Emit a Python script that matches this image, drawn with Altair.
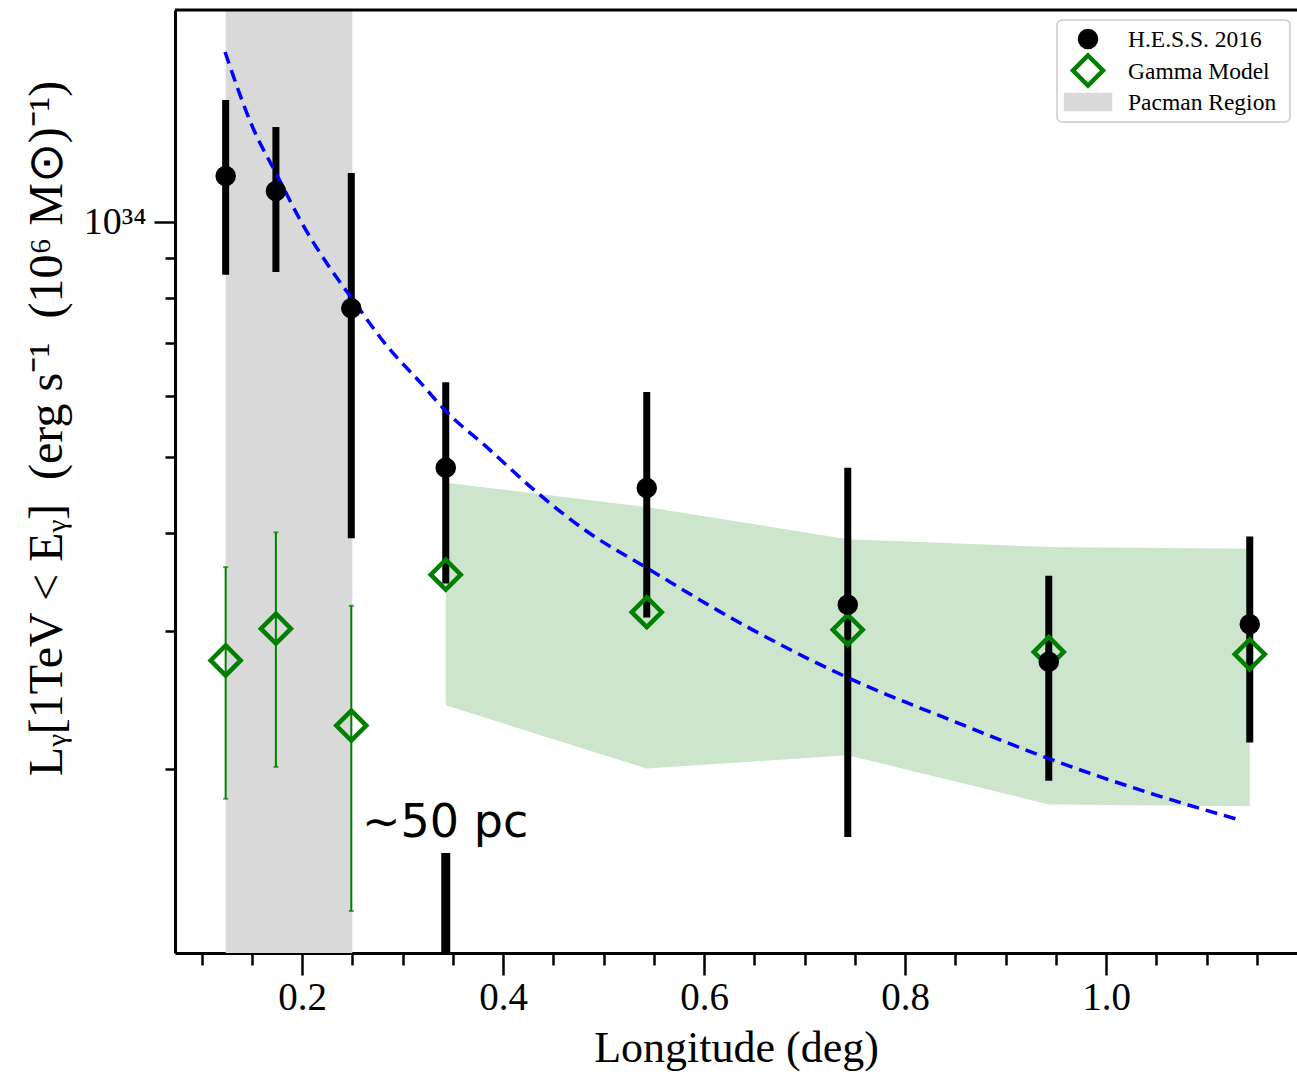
import altair as alt
import pandas as pd

# ---------------- data ----------------
hess_x = [0.124, 0.174, 0.249, 0.343, 0.543, 0.743, 0.943, 1.143]
hess_y = [1.145e34, 1.096e34, 7.76e33, 4.85e33, 4.57e33, 3.24e33, 2.74e33, 3.06e33]
hess_hi = [1.432e34, 1.323e34, 1.155e34, 6.24e33, 6.06e33, 4.85e33, 3.53e33, 3.96e33]
hess_lo = [8.56e33, 8.63e33, 3.94e33, 3.45e33, 3.12e33, 1.635e33, 1.93e33, 2.16e33]

gamma_x = [0.124, 0.174, 0.249, 0.343, 0.543, 0.743, 0.943, 1.143]
gamma_y = [2.75e33, 3.02e33, 2.27e33, 3.54e33, 3.17e33, 3.01e33, 2.82e33, 2.80e33]
gamma_err_x = [0.124, 0.174, 0.249]
gamma_err_hi = [3.62e33, 4.01e33, 3.23e33]
gamma_err_lo = [1.83e33, 2.01e33, 1.315e33]

band_x = [0.343, 0.543, 0.743, 0.943, 1.143]
band_hi = [4.64e33, 4.32e33, 3.93e33, 3.84e33, 3.82e33]
band_lo = [2.41e33, 2.00e33, 2.08e33, 1.80e33, 1.79e33]

curve_x = [0.1234, 0.1512, 0.1751, 0.2010, 0.2279, 0.2507, 0.2846, 0.3174, 0.3443,
           0.3841, 0.4338, 0.4836, 0.5433, 0.6149, 0.7413, 0.8517, 0.9473, 1.0498, 1.1323]
curve_y = [1.650e34, 1.319e34, 1.148e34, 9.91e33, 8.73e33, 7.95e33, 6.94e33, 6.24e33, 5.71e33,
           5.15e33, 4.51e33, 4.02e33, 3.61e33, 3.18e33, 2.62e33, 2.29e33, 2.05e33, 1.85e33, 1.72e33]

pacman_x = [0.124, 0.250]

scalebar_x = [0.343]
scalebar_y = [1.56e33]
scalebar_y2 = [1.162e33]

note_text = ["~50 pc"]
note_x = [0.2597]
note_y = [1.635e33]

series = ["H.E.S.S. 2016", "Gamma Model", "Pacman Region"]

x_domain = [0.0736, 1.1900]
y_domain = [1.162e33, 1.867e34]
x_tick_values = [0.1, 0.15, 0.2, 0.25, 0.3, 0.35, 0.4, 0.45, 0.5, 0.55, 0.6, 0.65,
                 0.7, 0.75, 0.8, 0.85, 0.9, 0.95, 1.0, 1.05, 1.1, 1.15]
y_tick_values = [2e33, 3e33, 4e33, 5e33, 6e33, 7e33, 8e33, 9e33, 1e34]

# ---------------- tables ----------------
hess_df = pd.DataFrame({"x": hess_x, "y": hess_y, "hi": hess_hi, "lo": hess_lo,
                        "series": series[0]})
gamma_df = pd.DataFrame({"x": gamma_x, "y": gamma_y, "series": series[1]})
gerr_df = pd.DataFrame({"x": gamma_err_x, "hi": gamma_err_hi, "lo": gamma_err_lo})
band_df = pd.DataFrame({"x": band_x, "hi": band_hi, "lo": band_lo})
curve_df = pd.DataFrame({"x": curve_x, "y": curve_y})
pac_df = pd.DataFrame({"x": [pacman_x[0]], "x2": [pacman_x[1]], "series": series[2]})
bar_df = pd.DataFrame({"x": scalebar_x, "y": scalebar_y, "y2": scalebar_y2})
note_df = pd.DataFrame({"x": note_x, "y": note_y, "t": note_text})
legend_df = pd.DataFrame({"series": series})

W, H = 1122, 943
SERIF = "Liberation Serif"

xs = alt.Scale(domain=x_domain, nice=False, zero=False)
ys = alt.Scale(type="log", domain=y_domain, nice=False)

circle_path = "M0.8,0 A0.8,0.8 0 1,1 -0.8,0 A0.8,0.8 0 1,1 0.8,0 Z"
diamond_path = "M0,-1.5 L1.5,0 L0,1.5 L-1.5,0 Z"
rect_path = "M-2.2,-0.7 L2.2,-0.7 L2.2,0.7 L-2.2,0.7 Z"

fill_scale = alt.Scale(domain=series, range=["black", "transparent", "#d9d9d9"])
stroke_scale = alt.Scale(domain=series, range=["black", "green", "#d9d9d9"])
shape_scale = alt.Scale(domain=series, range=[circle_path, diamond_path, rect_path])
legend_rows = alt.Scale(domain=series, range=[29, 92], padding=0)

x_axis = alt.Axis(
    values=x_tick_values,
    labelExpr="abs(datum.value*5 - round(datum.value*5)) < 0.001 ? format(datum.value, '.1f') : ''",
    tickSize={"condition": {"test": "abs(datum.value*5 - round(datum.value*5)) < 0.001", "value": 22}, "value": 12},
    tickWidth=2.5, tickColor="black",
    domainColor="black", domainWidth=3,
    labelFont=SERIF, labelFontSize=39, labelColor="black", labelPadding=3,
    labelBaseline="top", labelFlush=False, labelOverlap=False,
    title="Longitude (deg)", titleFont=SERIF, titleFontSize=44, titleFontWeight="normal",
    titleColor="black", titleBaseline="alphabetic", titleY=108, grid=False,
)
y_axis = alt.Axis(
    values=y_tick_values,
    labelExpr="datum.value > 9.5e33 && datum.value < 1.05e34 ? '10³⁴' : ''",
    tickSize={"condition": {"test": "datum.value > 9.5e33 && datum.value < 1.05e34", "value": 21}, "value": 10},
    tickWidth=2.5, tickColor="black",
    domainColor="black", domainWidth=3,
    labelFont=SERIF, labelFontSize=38, labelColor="black", labelPadding=8,
    labelFlush=False, labelOverlap=False,
    title="Lᵧ[1TeV < Eᵧ]\u2002(erg\u00a0s⁻¹\u2002(10⁶\u00a0M⊙)⁻¹)", titleFont=SERIF, titleFontSize=48,
    titleFontWeight="normal", titleColor="black", titleAngle=270,
    titleX=-128, titleY=418, titleAlign="center", titleBaseline="middle", grid=False,
)

pacman = alt.Chart(pac_df).mark_rect().encode(
    x=alt.X("x:Q", scale=xs, axis=x_axis),
    x2="x2:Q",
    y=alt.value(0), y2=alt.value(H),
    fill=alt.Fill("series:N", scale=fill_scale, legend=None),
)

band = alt.Chart(band_df).mark_area(color="#cde5cd", opacity=1).encode(
    x=alt.X("x:Q", scale=xs),
    y=alt.Y("hi:Q", scale=ys, axis=y_axis),
    y2="lo:Q",
)

gerr = alt.Chart(gerr_df).mark_rule(color="green", strokeWidth=2).encode(
    x=alt.X("x:Q", scale=xs), y=alt.Y("hi:Q", scale=ys), y2="lo:Q",
)
gcap_hi = alt.Chart(gerr_df).mark_tick(color="green", thickness=2, size=5, orient="horizontal").encode(
    x=alt.X("x:Q", scale=xs), y=alt.Y("hi:Q", scale=ys),
)
gcap_lo = alt.Chart(gerr_df).mark_tick(color="green", thickness=2, size=5, orient="horizontal").encode(
    x=alt.X("x:Q", scale=xs), y=alt.Y("lo:Q", scale=ys),
)

herr = alt.Chart(hess_df).mark_rule(color="black", strokeWidth=7).encode(
    x=alt.X("x:Q", scale=xs), y=alt.Y("hi:Q", scale=ys), y2="lo:Q",
)

curve = alt.Chart(curve_df).mark_line(color="blue", strokeWidth=3.5, strokeDash=[12, 7],
                                      interpolate="monotone").encode(
    x=alt.X("x:Q", scale=xs), y=alt.Y("y:Q", scale=ys),
)

def markers(df):
    return alt.Chart(df).mark_point(size=400, strokeWidth=4.5, opacity=1).encode(
        x=alt.X("x:Q", scale=xs), y=alt.Y("y:Q", scale=ys),
        fill=alt.Fill("series:N", scale=fill_scale, legend=None),
        stroke=alt.Stroke("series:N", scale=stroke_scale, legend=None),
        shape=alt.Shape("series:N", scale=shape_scale, legend=None),
    )

hess_pts = markers(hess_df)
gamma_pts = markers(gamma_df)

scalebar = alt.Chart(bar_df).mark_rule(color="black", strokeWidth=9).encode(
    x=alt.X("x:Q", scale=xs), y=alt.Y("y:Q", scale=ys), y2="y2:Q",
)

note = alt.Chart(note_df).mark_text(
    font="DejaVu Sans", fontSize=46, align="left", baseline="alphabetic", color="black"
).encode(
    x=alt.X("x:Q", scale=xs), y=alt.Y("y:Q", scale=ys), text="t:N",
)

top_border = alt.Chart(pac_df).mark_rule(color="black", strokeWidth=3).encode(
    x=alt.value(0), x2=alt.value(W), y=alt.value(0),
)

main = alt.layer(
    pacman, band, gerr, gcap_hi, gcap_lo, herr, curve, gamma_pts, hess_pts,
    scalebar, note, top_border,
)

# ---- legend (top right) ----
leg_box = alt.Chart(legend_df.head(1)).mark_rect(
    fill="white", stroke="#cccccc", strokeWidth=1.5, cornerRadius=5
).encode(x=alt.value(882), x2=alt.value(1115), y=alt.value(10), y2=alt.value(112))

leg_sym = alt.Chart(legend_df).mark_point(size=400, strokeWidth=4.5, opacity=1).encode(
    x=alt.value(913),
    y=alt.Y("series:N", scale=legend_rows, axis=None),
    fill=alt.Fill("series:N", scale=fill_scale, legend=None),
    stroke=alt.Stroke("series:N", scale=stroke_scale, legend=None),
    shape=alt.Shape("series:N", scale=shape_scale, legend=None),
)
leg_txt = alt.Chart(legend_df).mark_text(
    font=SERIF, fontSize=23.5, align="left", baseline="middle", color="black", dy=1
).encode(
    x=alt.value(953),
    y=alt.Y("series:N", scale=legend_rows, axis=None),
    text="series:N",
)
leg = alt.layer(leg_box, leg_sym, leg_txt)

chart = alt.layer(main, leg).resolve_scale(y="independent").properties(
    width=W, height=H,
    autosize=alt.AutoSizeParams(type="none"),
    padding={"left": 175, "top": 10, "right": 0, "bottom": 121},
).configure_view(stroke=None).configure(background="white")

chart.save("out.html", embed_options={"renderer": "svg", "actions": False})
